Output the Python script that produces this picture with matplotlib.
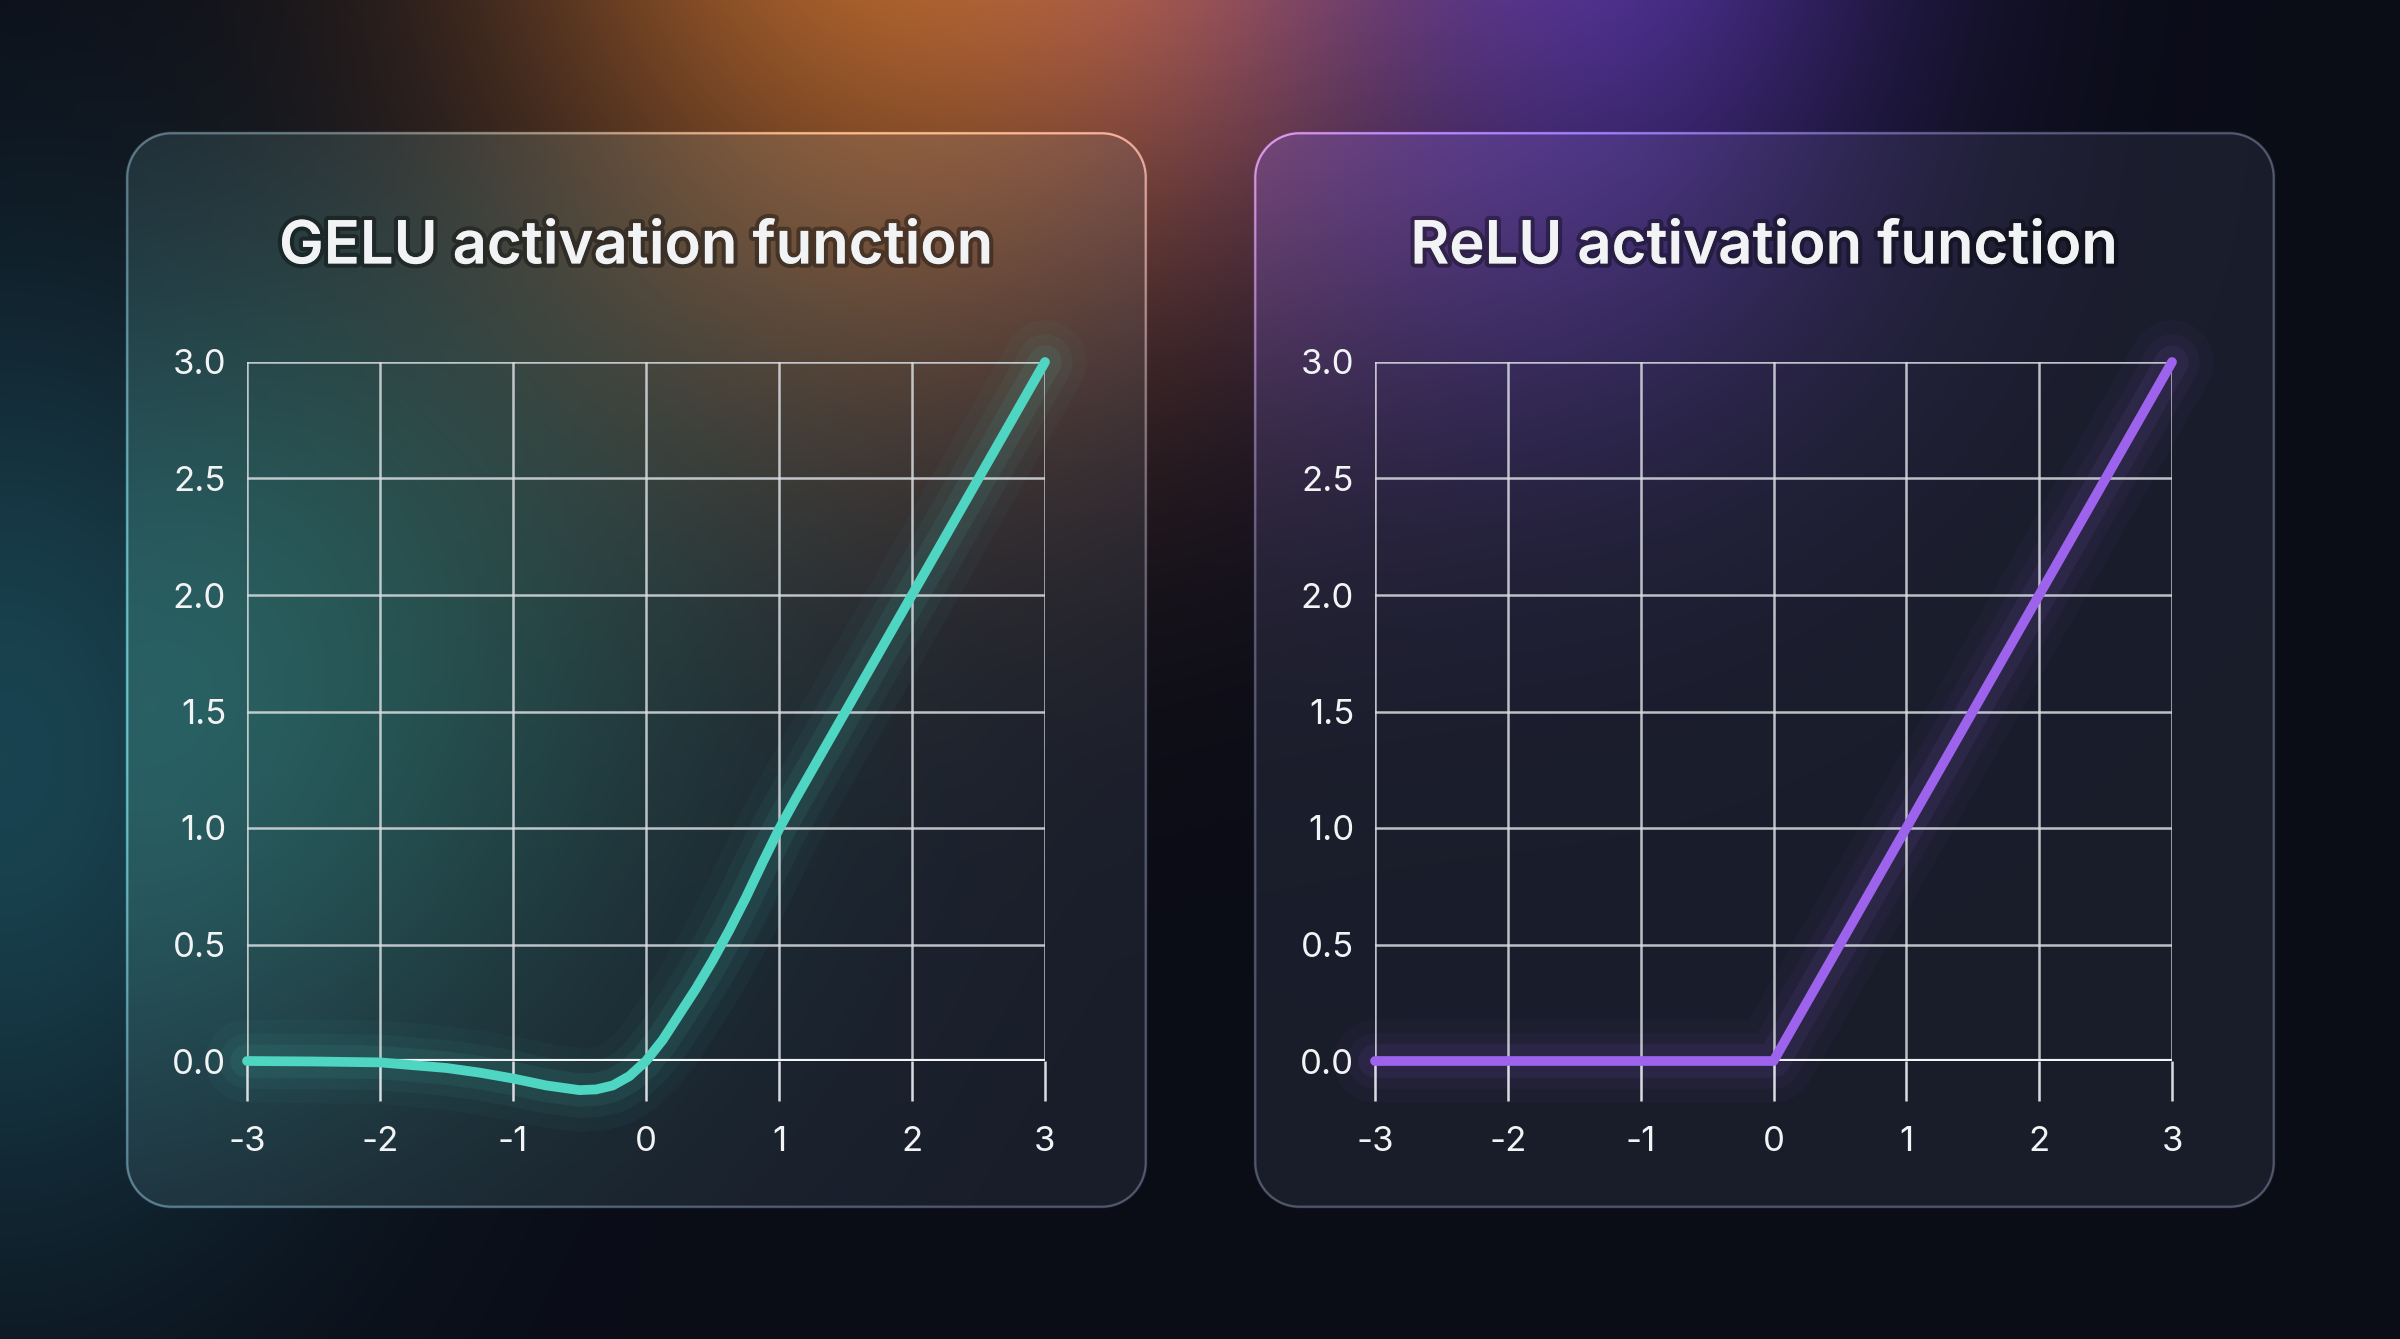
import numpy as np
import matplotlib.pyplot as plt
import matplotlib.patheffects as pe

# values
titles = ["GELU activation function", "ReLU activation function"]
x_ticks = [-3, -2, -1, 0, 1, 2, 3]
y_ticks = [0.0, 0.5, 1.0, 1.5, 2.0, 2.5, 3.0]

gelu_x = [-3.0, -2.5, -2.0, -1.5, -1.25, -1.0, -0.75, -0.5, -0.375, -0.25,
          -0.125, 0.0, 0.125, 0.25, 0.375, 0.5, 0.625, 0.75, 0.875, 1.0,
          1.125, 1.25, 1.5, 2.0, 2.5, 3.0]
gelu_y = [0.0, -0.002, -0.006, -0.03, -0.05, -0.075, -0.105, -0.125, -0.122, -0.105,
          -0.065, 0.0, 0.09, 0.2, 0.31, 0.43, 0.56, 0.7, 0.85, 0.995,
          1.125, 1.25, 1.5, 2.0, 2.5, 3.0]

relu_x = [-3.0, 0.0, 3.0]
relu_y = [0.0, 0.0, 3.0]

W, H = 2400, 1339
DPI = 200


def gauss(X, Y, cx, cy, sx, sy):
    return np.exp(-(((X - cx) / sx) ** 2 + ((Y - cy) / sy) ** 2) / 2)


def rr_sdf(X, Y, x0, y0, x1, y1, r):
    cx, cy = (x0 + x1) / 2, (y0 + y1) / 2
    hx, hy = (x1 - x0) / 2 - r, (y1 - y0) / 2 - r
    qx = np.abs(X - cx) - hx
    qy = np.abs(Y - cy) - hy
    outside = np.hypot(np.maximum(qx, 0), np.maximum(qy, 0))
    inside = np.minimum(np.maximum(qx, qy), 0)
    return outside + inside - r


# ---- background image (glows + glass panels) ----
Y, X = np.mgrid[0:H, 0:W].astype(np.float32)
img = np.zeros((H, W, 3), dtype=np.float32)
img[:] = np.array([10, 12, 22]) / 255

glows = [
    ((900, -150, 290, 340), (170, 90, 22)),
    ((1200, -150, 150, 300), (45, 18, 30)),
    ((1590, -150, 220, 330), (65, 35, 128)),
    ((0, 760, 260, 360), (15, 55, 58)),
]
for (cx, cy, sx, sy), col in glows:
    g = gauss(X, Y, cx, cy, sx, sy)[..., None]
    img += g * np.array(col, dtype=np.float32) / 255

panels = [(125, 131, 1147, 1208), (1253, 131, 2275, 1208)]
panel_glows = [
    [((340, 660, 300, 340), (8, 42, 28)), ((880, 160, 300, 250), (26, 16, 6))],
    [((1330, 180, 330, 220), (22, 8, 38))],
]
for (x0, y0, x1, y1), pg in zip(panels, panel_glows):
    d = rr_sdf(X, Y, x0, y0, x1, y1, 46)
    fill = np.clip(0.5 - d, 0, 1)[..., None]
    inner = img * 0.72 + np.array([18, 20, 26], dtype=np.float32) / 255
    for (cx, cy, sx, sy), col in pg:
        inner = inner + gauss(X, Y, cx, cy, sx, sy)[..., None] * np.array(col, dtype=np.float32) / 255
    img = img * (1 - fill) + inner * fill
    ring = np.clip(1.6 - np.abs(d + 1.8), 0, 1)[..., None]
    border = np.clip(img * 1.6 + 0.16, 0, 1)
    img = img * (1 - ring) + border * ring
img = np.clip(img, 0, 1)

plt.rcParams['font.family'] = ['Inter', 'DejaVu Sans']
fig = plt.figure(figsize=(W / DPI, H / DPI), dpi=DPI)
bg = fig.add_axes([0, 0, 1, 1])
bg.imshow(img, extent=(0, W, H, 0), interpolation='bilinear')
bg.set_xlim(0, W)
bg.set_ylim(H, 0)
bg.axis('off')

grid_col = '#d9dde2'
text_col = '#f2f3f5'
line_cols = ['#4fd6c2', '#9d63ec']
axes_px = [(247, 1045), (1375, 2172)]
top_px, bot_px = 362, 1061
datasets = [(gelu_x, gelu_y), (relu_x, relu_y)]
shadow = [pe.withStroke(linewidth=3, foreground=(0, 0, 0, 0.35))]

for i in range(2):
    l, r = axes_px[i]
    ax = fig.add_axes([l / W, 1 - bot_px / H, (r - l) / W, (bot_px - top_px) / H])
    ax.set_facecolor('none')
    ax.set_xlim(-3, 3)
    ax.set_ylim(0, 3)
    ax.set_xticks(x_ticks)
    ax.set_yticks(y_ticks)
    ax.set_xticklabels([str(t) for t in x_ticks])
    ax.set_yticklabels([f'{t:.1f}' for t in y_ticks])
    for s in ax.spines.values():
        s.set_visible(False)
    ax.grid(True, color=grid_col, linewidth=0.9, alpha=0.85)
    ax.tick_params(axis='x', direction='out', length=14.5, width=0.9,
                   color=grid_col, pad=9, labelsize=12.5, labelcolor=text_col)
    ax.tick_params(axis='y', length=0, pad=7.5, labelsize=12.5, labelcolor=text_col)
    ax.axhline(0, color='#f2f4f6', linewidth=1.5, zorder=2)

    xs, ys = datasets[i]
    col = line_cols[i]
    for lw, a in [(30, 0.035), (20, 0.05), (12, 0.08)]:
        ax.plot(xs, ys, color=col, linewidth=lw, alpha=a,
                solid_capstyle='round', solid_joinstyle='round', zorder=1, clip_on=False)
    ax.plot(xs, ys, color=col, linewidth=3.5, solid_capstyle='round',
            solid_joinstyle='round', zorder=3, clip_on=False)

    cx = (panels[i][0] + panels[i][2]) / 2 / W
    fig.text(cx, 1 - 248 / H, titles[i], ha='center', va='center',
             fontsize=21.5, fontweight='semibold', color=text_col, path_effects=shadow)

fig.savefig('out.png', dpi=DPI)
